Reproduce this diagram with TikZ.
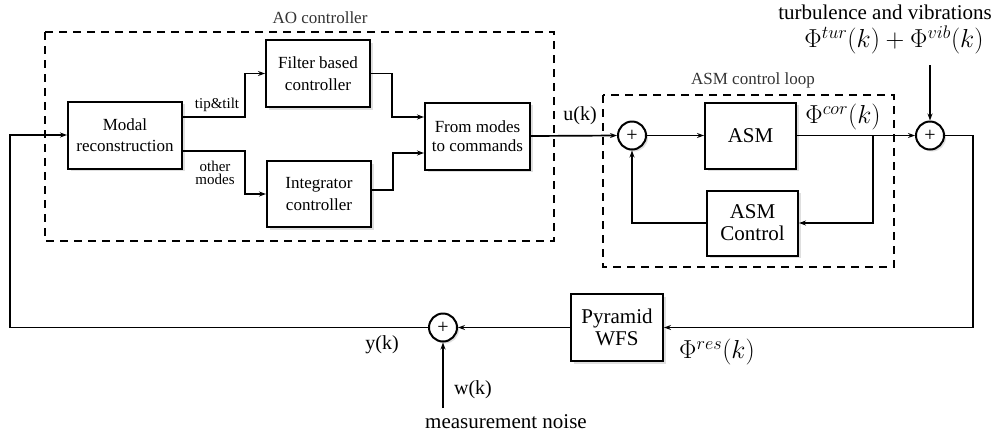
\RequirePackage{fix-cm}
\documentclass[tikz,border=0pt]{standalone}
\usepackage{fontspec}
\setmainfont{Liberation Serif}
\usetikzlibrary{arrows.meta,shadows,calc}
\newcommand\fsBox{\fontsize{17}{19.5}\selectfont}
\newcommand\fsBig{\fontsize{21}{22}\selectfont}
\newcommand\fsMath{\fontsize{26}{28}\selectfont}
\newcommand\fsLab{\fontsize{20}{22}\selectfont}
\newcommand\fsSmall{\fontsize{15}{13.5}\selectfont}
\begin{document}
\begin{tikzpicture}[x=1pt,y=-1pt,
  blk/.style={draw,line width=2pt,fill=white,align=center,inner sep=0pt,
    drop shadow={shadow xshift=2.5pt,shadow yshift=-2.5pt,fill=black!25}},
  sumnode/.style={draw,circle,line width=2pt,fill=white,minimum size=28pt,inner sep=0pt,
    font=\fontsize{20}{20}\selectfont,
    drop shadow={shadow xshift=2pt,shadow yshift=-2pt,fill=black!25}},
  arr/.style={line width=1.7pt,-{Stealth[length=7pt,width=5pt]}},
  dbox/.style={dashed,dash pattern=on 8pt off 6pt},
  lab/.style={inner sep=1pt},
  grp/.style={lab,text=black!80,font=\fsBox}]
\useasboundingbox (0,0) rectangle (995,432);

% dashed groups
\draw[dbox,line width=2pt] (45,32) rectangle (554,241);
\node[grp] (aolab) at (320,18) {AO controller};
\draw[dbox,line width=1.6pt] (603,95) rectangle (894,267);
\node[grp] (asmlab) at (753,80) {ASM control loop};

% blocks
\node[blk,minimum width=114pt,minimum height=67pt,font=\fsBox] (modal) at (125,135) {Modal\\[2pt]reconstruction};
\node[blk,minimum width=104pt,minimum height=67pt,font=\fsBox] (filter) at (318,73.5) {Filter based\\[2pt]controller};
\node[blk,minimum width=104pt,minimum height=66pt,font=\fsBox] (integ) at (319,194) {Integrator\\[2pt]controller};
\node[blk,minimum width=105pt,minimum height=67pt,font=\fsBox] (cmds) at (477.5,136) {From modes\\to commands};
\node[blk,minimum width=91pt,minimum height=66pt,font=\fsBig] (asm) at (750.5,135.5) {ASM};
\node[blk,minimum width=91pt,minimum height=65pt,font=\fsBig] (asmc) at (752.5,223) {ASM\\Control};
\node[blk,minimum width=92pt,minimum height=67pt,font=\fsBig] (pyr) at (617,327.5) {Pyramid\\WFS};

\node[sumnode] (s1) at (632,135.5) {+};
\node[sumnode] (s2) at (930,135.5) {+};
\node[sumnode] (s3) at (443,327.5) {+};

\coordinate (tin) at (930,65);
\coordinate (nin) at (443,408);
\coordinate (br) at (873,135.5);

% connectors
\draw[arr] ($(modal.east)+(0,-18)$) -- (245,117) |- (filter.west);
\draw[arr] ($(modal.east)+(0,16)$) -- (245,151) |- (integ.west);
\draw[arr] (filter.east) -| (392,117) -- (cmds.west |- 392,117);
\draw[arr] ($(integ.east)+(0,-4)$) -| (393,153) -- (cmds.west |- 393,153);
\draw[arr] (cmds.east) -- (s1.west);
\draw[arr] (s1.east) -- (asm.west);
\draw[arr] (asm.east) -- (s2.west);
\draw[arr] (br) |- (asmc.east);
\draw[arr] (asmc.west) -| (s1.south);
\draw[arr] (tin) -- (s2.north);
\draw[arr] (s2.east) -- (973,135.5) |- (pyr.east);
\draw[arr] (pyr.west) -- (s3.east);
\draw[arr] (s3.west) -- (10,327.5) |- (modal.west);
\draw[arr] (nin) -- (s3.south);

% labels
\node[lab,font=\fsSmall] (tt) at (217,105) {tip\&tilt};
\node[lab,font=\fsSmall,align=center] (om) at (215,173) {other\\modes};
\node[lab,font=\fsLab] (uk) at (580,116) {u(k)};
\node[lab,font=\fsMath] (phicor) at (843,117) {$\Phi^{cor}(k)$};
\node[lab,font=\fontsize{21}{22}\selectfont,inner sep=0pt] (turb) at (885,12) {turbulence and vibrations};
\node[lab,font=\fsMath,inner sep=0pt] (phitur) at (894,40) {$\Phi^{tur}(k)+\Phi^{vib}(k)$};
\node[lab,font=\fsMath] (phires) at (717,352) {$\Phi^{res}(k)$};
\node[lab,font=\fsLab] (yk) at (382,345) {y(k)};
\node[lab,font=\fsLab] (wk) at (473,390) {w(k)};
\node[lab,font=\fontsize{21}{22}\selectfont] (mn) at (506,422) {measurement noise};
\end{tikzpicture}
\end{document}
